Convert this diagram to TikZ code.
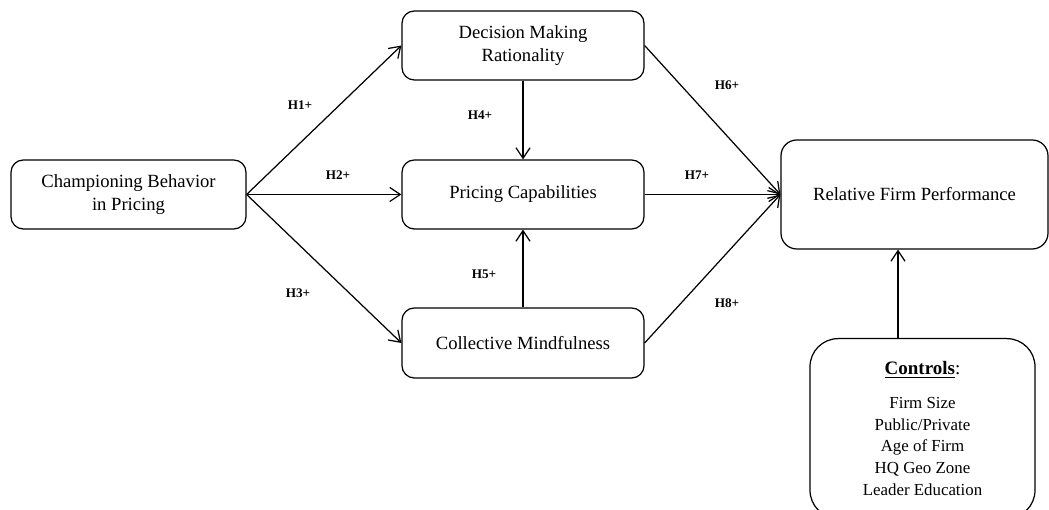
\documentclass[tikz,border=0pt]{standalone}
\usepackage{fontspec}
\setmainfont{Liberation Serif}
\usetikzlibrary{arrows.meta}

\begin{document}
\begin{tikzpicture}[
    box/.style={draw, line width=0.7pt, rounded corners=7pt, align=center,
                font=\fontsize{10.6}{12.8}\selectfont, inner sep=0pt},
    hyp/.style={font=\fontsize{7.5}{9}\selectfont\bfseries},
    arr/.style={line width=0.7pt, -{Straight Barb[length=6pt,width=8pt,line width=0.7pt]}}
  ]
  \useasboundingbox (0,0) rectangle (20.98,10.2);
  % constructs
  \node[box, minimum width=4.7cm, minimum height=1.38cm] (champ) at (2.57,6.31) {Championing Behavior\\in Pricing};
  \node[box, minimum width=4.84cm, minimum height=1.38cm] (dmr) at (10.46,9.29) {Decision Making\\Rationality};
  \node[box, minimum width=4.84cm, minimum height=1.38cm] (pc) at (10.46,6.31) {Pricing Capabilities};
  \node[box, minimum width=4.84cm, minimum height=1.4cm] (cm) at (10.46,3.34) {Collective Mindfulness};
  \node[box, rounded corners=9pt, minimum width=5.34cm, minimum height=2.18cm] (rfp) at (18.29,6.31) {Relative Firm Performance};
  \node[box, rounded corners=16pt, minimum width=4.5cm, inner ysep=0.46cm, anchor=north,
        font=\fontsize{9.6}{12.3}\selectfont] (ctrl) at (18.45,3.44)
        {{\fontsize{10.8}{12}\selectfont\underline{\textbf{Controls}}:}\\[7pt]
         Firm Size\\Public/Private\\Age of Firm\\HQ Geo Zone\\Leader Education};
  % paths
  \draw[arr] (champ.east) -- (dmr.west);
  \draw[arr] (champ.east) -- (pc.west);
  \draw[arr] (champ.east) -- (cm.west);
  \draw[arr] (dmr.south) -- (pc.north);
  \draw[arr] (cm.north) -- (pc.south);
  \draw[arr] (dmr.east) -- (rfp.west);
  \draw[arr] (pc.east) -- (rfp.west);
  \draw[arr] (cm.east) -- (rfp.west);
  \draw[arr] ([xshift=-0.49cm]ctrl.north) -- ([xshift=-0.49cm]ctrl.north |- rfp.south);
  % hypotheses
  \node[hyp] (h1) at (6.0,8.1) {H1+};
  \node[hyp] (h2) at (6.76,6.7) {H2+};
  \node[hyp] (h3) at (5.96,4.34) {H3+};
  \node[hyp] (h4) at (9.6,7.9) {H4+};
  \node[hyp] (h5) at (9.68,4.72) {H5+};
  \node[hyp] (h6) at (14.54,8.5) {H6+};
  \node[hyp] (h7) at (13.94,6.7) {H7+};
  \node[hyp] (h8) at (14.54,4.14) {H8+};
\end{tikzpicture}
\end{document}
